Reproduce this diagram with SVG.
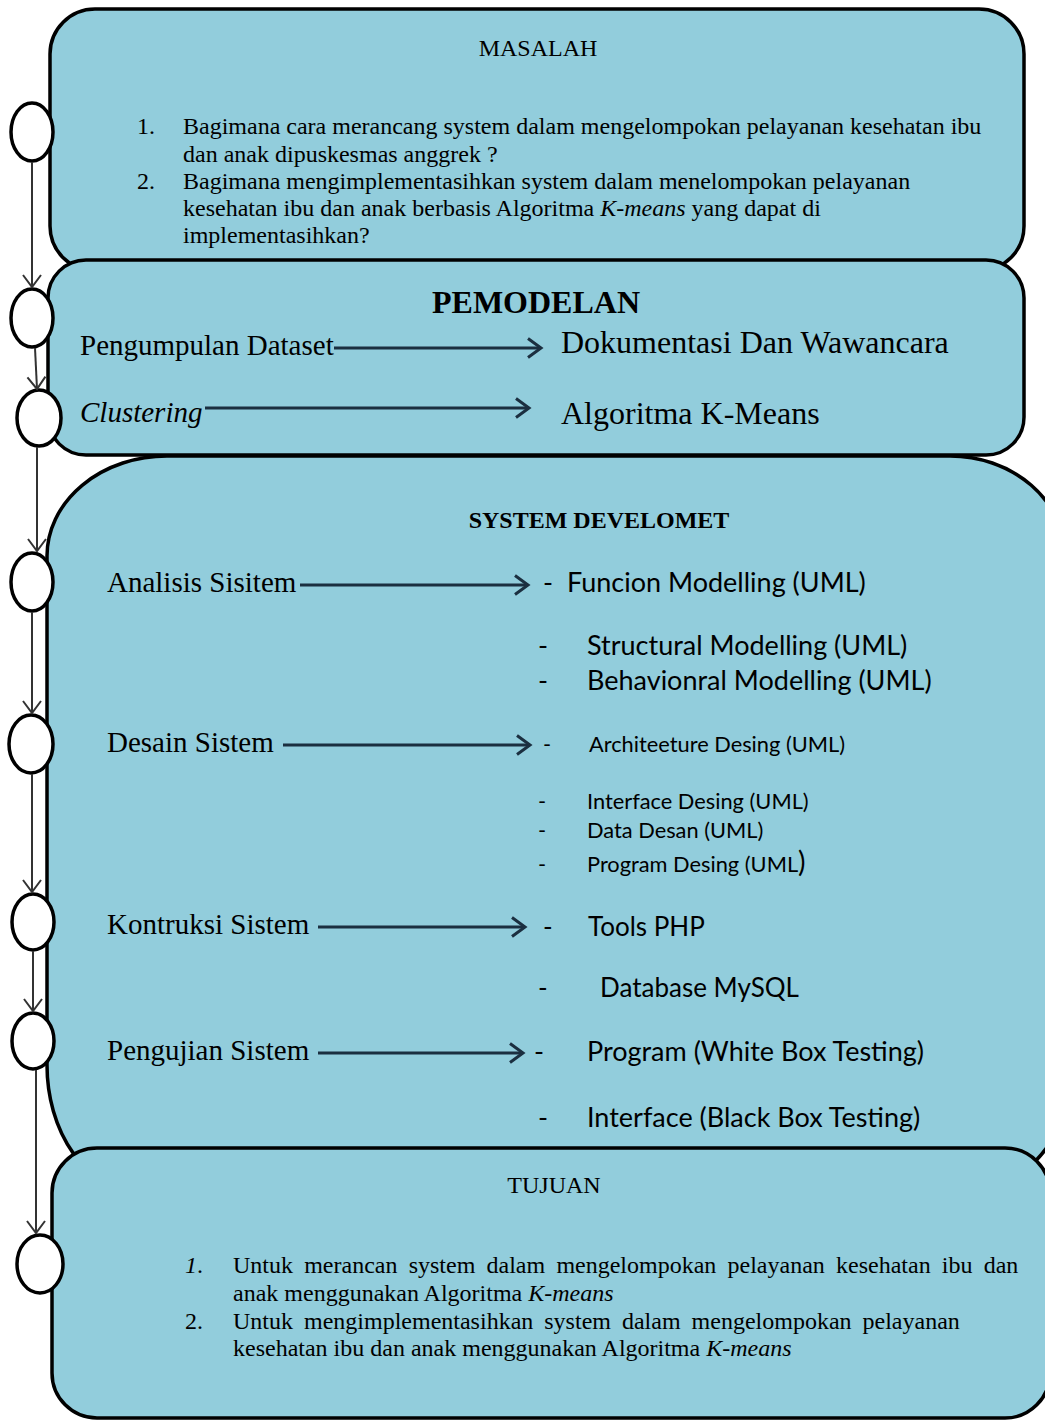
<svg xmlns="http://www.w3.org/2000/svg" width="1045" height="1424" viewBox="0 0 1045 1424">
  <style>
    .panel { fill: #92cddc; stroke: #000; stroke-width: 3.5; }
    .node { fill: #fff; stroke: #000; stroke-width: 3.5; }
    .flow { stroke: #333; stroke-width: 2; fill: none; marker-end: url(#vhead); }
    .link { stroke: #1b2f40; stroke-width: 2.8; fill: none; marker-end: url(#hhead); }
    .serif { font-family: "Liberation Serif", "Times New Roman", serif; fill: #000; }
    .sans { font-family: Lato, "Liberation Sans", sans-serif; fill: #000; }
    .body { font-size: 24px; }
    .lbl { font-size: 29px; }
    .item { font-size: 27px; }
    .small { font-size: 21.8px; }
  </style>
  <defs>
    <marker id="vhead" markerUnits="userSpaceOnUse" markerWidth="24" markerHeight="24" refX="13" refY="10" orient="auto" viewBox="0 0 24 20">
      <path d="M1,1 L13,10 L1,19" fill="none" stroke="#333" stroke-width="2"/>
    </marker>
    <marker id="hhead" markerUnits="userSpaceOnUse" markerWidth="24" markerHeight="24" refX="15" refY="11" orient="auto" viewBox="0 0 24 22">
      <path d="M2,1.5 L15,11 L2,20.5" fill="none" stroke="#1b2f40" stroke-width="3"/>
    </marker>
  </defs>

  <!-- MASALAH panel -->
  <g id="masalah">
    <rect class="panel" x="50" y="9" width="974" height="262" rx="45" ry="45"/>
    <text class="serif" x="538" y="56" font-size="24" text-anchor="middle">MASALAH</text>
    <text class="serif body" x="137" y="134">1.</text>
    <text class="serif body" x="183" y="134">Bagimana cara merancang system dalam mengelompokan pelayanan kesehatan ibu</text>
    <text class="serif body" x="183" y="162">dan anak dipuskesmas anggrek ?</text>
    <text class="serif body" x="137" y="189">2.</text>
    <text class="serif body" x="183" y="189">Bagimana mengimplementasihkan system dalam menelompokan pelayanan</text>
    <text class="serif body" x="183" y="216">kesehatan ibu dan anak berbasis Algoritma <tspan font-style="italic">K-means</tspan> yang dapat di</text>
    <text class="serif body" x="183" y="243">implementasihkan?</text>
  </g>

  <!-- PEMODELAN panel -->
  <g id="pemodelan">
    <rect class="panel" x="48" y="260" width="976" height="195" rx="38" ry="38"/>
    <text class="serif" x="536" y="313" font-size="32" font-weight="bold" text-anchor="middle">PEMODELAN</text>
    <text class="serif lbl" x="80" y="355">Pengumpulan Dataset</text>
    <text class="serif" x="561" y="353" font-size="32">Dokumentasi Dan Wawancara</text>
    <text class="serif lbl" x="80" y="422" font-style="italic">Clustering</text>
    <text class="serif" x="561" y="424" font-size="32">Algoritma K-Means</text>
  </g>

  <!-- SYSTEM DEVELOMET panel -->
  <g id="system-development">
    <path class="panel" d="M167,456 H950 A115,100 0 0 1 1065,556 V1090 A100,100 0 0 1 965,1190 H137 A90,125 0 0 1 47,1065 V556 A120,100 0 0 1 167,456 Z"/>
    <text class="serif" x="599" y="528" font-size="24" font-weight="bold" text-anchor="middle">SYSTEM DEVELOMET</text>

    <text class="serif lbl" x="107" y="592">Analisis Sisitem</text>
    <text class="serif lbl" x="107" y="752">Desain Sistem</text>
    <text class="serif lbl" x="107" y="934">Kontruksi Sistem</text>
    <text class="serif lbl" x="107" y="1060">Pengujian Sistem</text>

    <text class="sans item" x="543" y="592">-</text>
    <text class="sans item" x="567" y="592">Funcion Modelling (UML)</text>
    <text class="sans item" x="538" y="655">-</text>
    <text class="sans item" x="587" y="655">Structural Modelling (UML)</text>
    <text class="sans item" x="538" y="690">-</text>
    <text class="sans item" x="587" y="690">Behavionral Modelling (UML)</text>

    <text class="sans small" x="543" y="752">-</text>
    <text class="sans small" x="589" y="752">Architeeture Desing (UML)</text>
    <text class="sans small" x="538" y="809">-</text>
    <text class="sans small" x="587" y="809">Interface Desing (UML)</text>
    <text class="sans small" x="538" y="838">-</text>
    <text class="sans small" x="587" y="838">Data Desan (UML)</text>
    <text class="sans small" x="538" y="872">-</text>
    <text class="sans small" x="587" y="872">Program Desing (UML<tspan font-size="28">)</tspan></text>

    <text class="sans" x="543" y="936" font-size="26">-</text>
    <text class="sans" x="588" y="936" font-size="26">Tools PHP</text>
    <text class="sans" x="538" y="997" font-size="26">-</text>
    <text class="sans" x="600" y="997" font-size="26">Database MySQL</text>
    <text class="sans item" x="534" y="1061">-</text>
    <text class="sans item" x="587" y="1061">Program (White Box Testing)</text>
    <text class="sans item" x="538" y="1127">-</text>
    <text class="sans item" x="587" y="1127">Interface (Black Box Testing)</text>
  </g>

  <!-- TUJUAN panel -->
  <g id="tujuan">
    <rect class="panel" x="52" y="1148" width="998" height="270" rx="45" ry="45"/>
    <text class="serif" x="554" y="1193" font-size="24" text-anchor="middle">TUJUAN</text>
    <text class="serif body" x="185" y="1273" font-style="italic">1<tspan font-style="normal">.</tspan></text>
    <text class="serif body" x="233" y="1273" word-spacing="5.2">Untuk merancan system dalam mengelompokan pelayanan kesehatan ibu dan</text>
    <text class="serif body" x="233" y="1301">anak menggunakan Algoritma <tspan font-style="italic">K-means</tspan></text>
    <text class="serif body" x="185" y="1329">2.</text>
    <text class="serif body" x="233" y="1329" word-spacing="5">Untuk mengimplementasihkan system dalam mengelompokan pelayanan</text>
    <text class="serif body" x="233" y="1356">kesehatan ibu dan anak menggunakan Algoritma <tspan font-style="italic">K-means</tspan></text>
  </g>

  <!-- step markers along the left rail -->
  <g id="steps">
    <ellipse id="step-1" class="node" cx="32" cy="132" rx="21" ry="29"/>
    <ellipse id="step-2" class="node" cx="32" cy="318" rx="21" ry="29"/>
    <ellipse id="step-3" class="node" cx="39" cy="418" rx="22" ry="28"/>
    <ellipse id="step-4" class="node" cx="32" cy="582" rx="21" ry="29"/>
    <ellipse id="step-5" class="node" cx="31" cy="744" rx="22" ry="29"/>
    <ellipse id="step-6" class="node" cx="33" cy="922" rx="21" ry="28"/>
    <ellipse id="step-7" class="node" cx="33" cy="1041" rx="21" ry="28"/>
    <ellipse id="step-8" class="node" cx="40" cy="1264" rx="23" ry="29"/>
  </g>

  <!-- connectors -->
  <g id="connectors">
    <path class="flow" d="M32,162 V287"/>
    <path class="flow" d="M35,348 L37,389"/>
    <path class="flow" d="M37,447 V551"/>
    <path class="flow" d="M32,612 V713"/>
    <path class="flow" d="M32,774 V892"/>
    <path class="flow" d="M33,951 V1011"/>
    <path class="flow" d="M36,1070 V1233"/>

    <path class="link" d="M334,348 H541"/>
    <path class="link" d="M205,408 H529"/>
    <path class="link" d="M300,585 H528"/>
    <path class="link" d="M283,745 H530"/>
    <path class="link" d="M318,927 H525"/>
    <path class="link" d="M318,1053 H523"/>
  </g>
</svg>
